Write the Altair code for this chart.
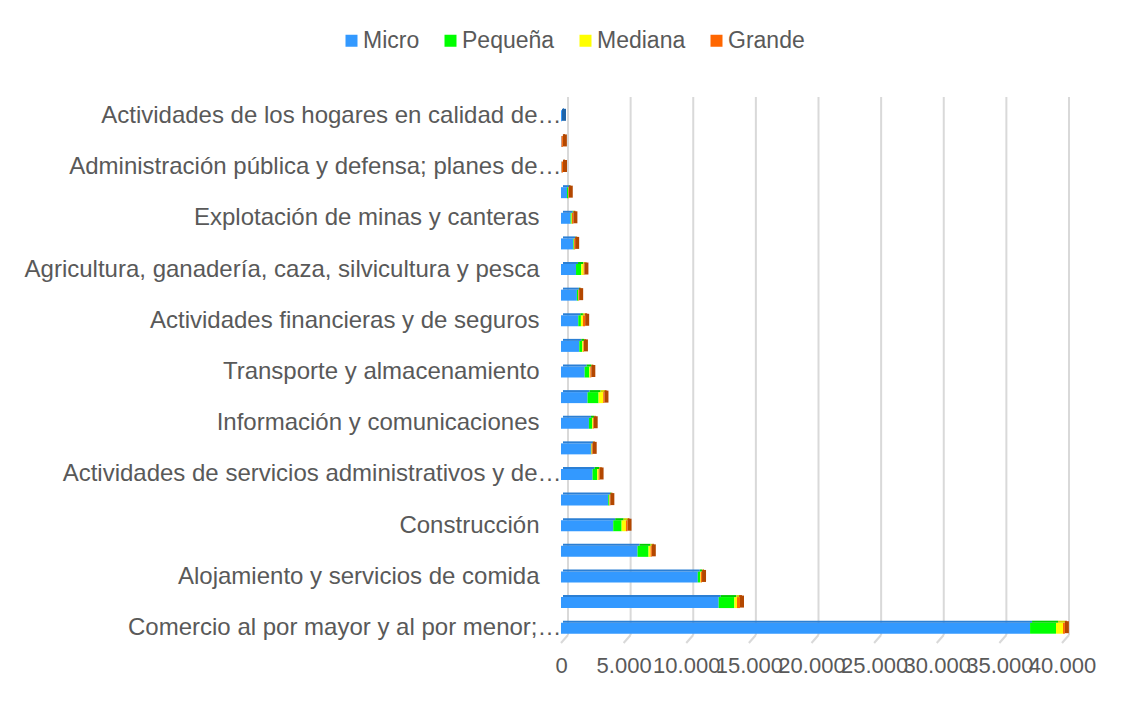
import json
import altair as alt
import pandas as pd

# Categories, top to bottom (only every other label is shown in the reference)
categorias = [
    "Actividades de los hogares en calidad de…",
    "Actividades de organizaciones extraterritoriales",
    "Administración pública y defensa; planes de…",
    "Suministro de electricidad, gas, vapor y aire acondicionado",
    "Explotación de minas y canteras",
    "Distribución de agua; evacuación y tratamiento de aguas residuales",
    "Agricultura, ganadería, caza, silvicultura y pesca",
    "Actividades artísticas, de entretenimiento y recreación",
    "Actividades financieras y de seguros",
    "Actividades inmobiliarias",
    "Transporte y almacenamiento",
    "Educación",
    "Información y comunicaciones",
    "Actividades de atención de la salud humana",
    "Actividades de servicios administrativos y de…",
    "Otras actividades de servicios",
    "Construcción",
    "Actividades profesionales, científicas y técnicas",
    "Alojamiento y servicios de comida",
    "Industrias manufactureras",
    "Comercio al por mayor y al por menor;…",
]
micro   = [80, 40, 40, 480, 770, 980, 1200, 1270, 1380, 1460, 1890, 2120, 2230, 2390, 2520, 3770, 4170, 6110, 10920, 12590, 37450]
pequena = [0, 0, 0, 80, 80, 50, 420, 100, 210, 240, 370, 880, 260, 40, 370, 80, 670, 880, 190, 1250, 2070]
mediana = [0, 0, 10, 20, 30, 20, 190, 20, 160, 80, 80, 370, 60, 20, 110, 30, 340, 160, 50, 210, 560]
grande  = [0, 110, 110, 40, 110, 80, 60, 60, 180, 50, 80, 100, 60, 80, 80, 60, 130, 100, 100, 240, 150]

tamanos = ["Micro", "Pequeña", "Mediana", "Grande"]
colores = ["#3399ff", "#00ff00", "#ffff00", "#ff6600"]
colores_arriba = ["#2b7fd4", "#00cc00", "#cccc00", "#cc5200"]
colores_lado = ["#1f64a8", "#00a000", "#b0b000", "#b34700"]
ticks_x = [0, 5000, 10000, 15000, 20000, 25000, 30000, 35000, 40000]

series = {"Micro": micro, "Pequeña": pequena, "Mediana": mediana, "Grande": grande}
rows = []
for orden, t in enumerate(tamanos):
    for c, v in zip(categorias, series[t]):
        rows.append({"Actividad": c, "Tamaño": t, "Empresas": v, "orden": orden})
df = pd.DataFrame(rows)

# end face of each 3D bar takes the colour of its last non-empty segment
lado_rows = []
for i, c in enumerate(categorias):
    vals = [series[t][i] for t in tamanos]
    ultimo = [t for t, v in zip(tamanos, vals) if v > 0][-1]
    lado_rows.append({"Actividad": c, "total": sum(vals), "Tamaño": ultimo})
lado_df = pd.DataFrame(lado_rows)
grid_df = pd.DataFrame({"v": ticks_x})

ocultas = categorias[1::2]
label_expr = (
    "indexof(" + json.dumps(ocultas, ensure_ascii=False) + ", datum.label) >= 0 ? '' : datum.label"
)

W, H = 501, 538
TXT = "#595959"
FONT = "Liberation Sans"

xscale = alt.Scale(domain=[0, 40000], nice=False, zero=True)
yscale = alt.Scale(paddingInner=0, paddingOuter=0)

grid = alt.Chart(grid_df).mark_rule(color="#d9d9d9", strokeWidth=2, xOffset=7).encode(
    x=alt.X("v:Q", scale=xscale, title=None),
    y=alt.value(-6),
    y2=alt.value(H - 6),
)
floor = alt.Chart(grid_df).mark_rule(color="#d9d9d9", strokeWidth=2, xOffset=7, x2Offset=0).encode(
    x=alt.X("v:Q", scale=xscale, title=None),
    x2="v:Q",
    y=alt.value(H - 6),
    y2=alt.value(H + 2),
)

yenc = alt.Y(
    "Actividad:N",
    sort=categorias,
    scale=yscale,
    axis=alt.Axis(
        title=None, domain=False, ticks=False, grid=False,
        labelFontSize=24, labelColor=TXT, labelFont=FONT,
        labelLimit=700,
        labelPadding={"condition": {"test": "indexof(datum.value, '…') >= 0", "value": 0}, "value": 22},
        labelExpr=label_expr,
    ),
)

bars = alt.Chart(df).mark_bar(size=11).encode(
    y=yenc,
    x=alt.X(
        "sum(Empresas):Q",
        stack="zero",
        scale=xscale,
        axis=alt.Axis(
            title=None, domain=False, ticks=False, grid=False,
            values=ticks_x, labelFontSize=22, labelColor=TXT, labelFont=FONT,
            labelPadding=14, labelOverlap=False, labelFlush=False,
            labelExpr="replace(format(datum.value, ','), ',', '.')",
        ),
    ),
    color=alt.Color(
        "Tamaño:N",
        scale=alt.Scale(domain=tamanos, range=colores),
        legend=alt.Legend(
            title=None, orient="none", legendX=-221, legendY=-74,
            direction="horizontal", symbolType="square", symbolSize=144,
            symbolStrokeWidth=0, labelFontSize=23, labelColor=TXT, labelFont=FONT,
            labelOffset=0, columnPadding=19,
        ),
    ),
    order=alt.Order("orden:Q", sort="ascending"),
)

tops = alt.Chart(df).mark_bar(size=2, yOffset=-6.5, xOffset=2, x2Offset=2).encode(
    y=alt.Y("Actividad:N", sort=categorias, scale=yscale, title=None),
    x=alt.X("sum(Empresas):Q", stack="zero", scale=xscale, title=None),
    color=alt.Color("Tamaño:N", scale=alt.Scale(domain=tamanos, range=colores_arriba), legend=None),
    order=alt.Order("orden:Q", sort="ascending"),
)

sides = alt.Chart(lado_df).mark_bar(size=12, yOffset=-1, xOffset=0, x2Offset=4).encode(
    y=alt.Y("Actividad:N", sort=categorias, scale=yscale, title=None),
    x=alt.X("total:Q", scale=xscale, title=None),
    x2="total:Q",
    color=alt.Color("Tamaño:N", scale=alt.Scale(domain=tamanos, range=colores_lado), legend=None),
)

chart = alt.layer(grid, floor, bars, tops, sides).resolve_scale(color="independent").properties(
    width=W, height=H,
    background="white",
    padding={"left": 553, "top": 95, "right": 70, "bottom": 50},
    autosize=alt.AutoSizeParams(type="none"),
).configure_view(stroke=None)

chart.save("out.html", embed_options={"renderer": "svg", "actions": False})
